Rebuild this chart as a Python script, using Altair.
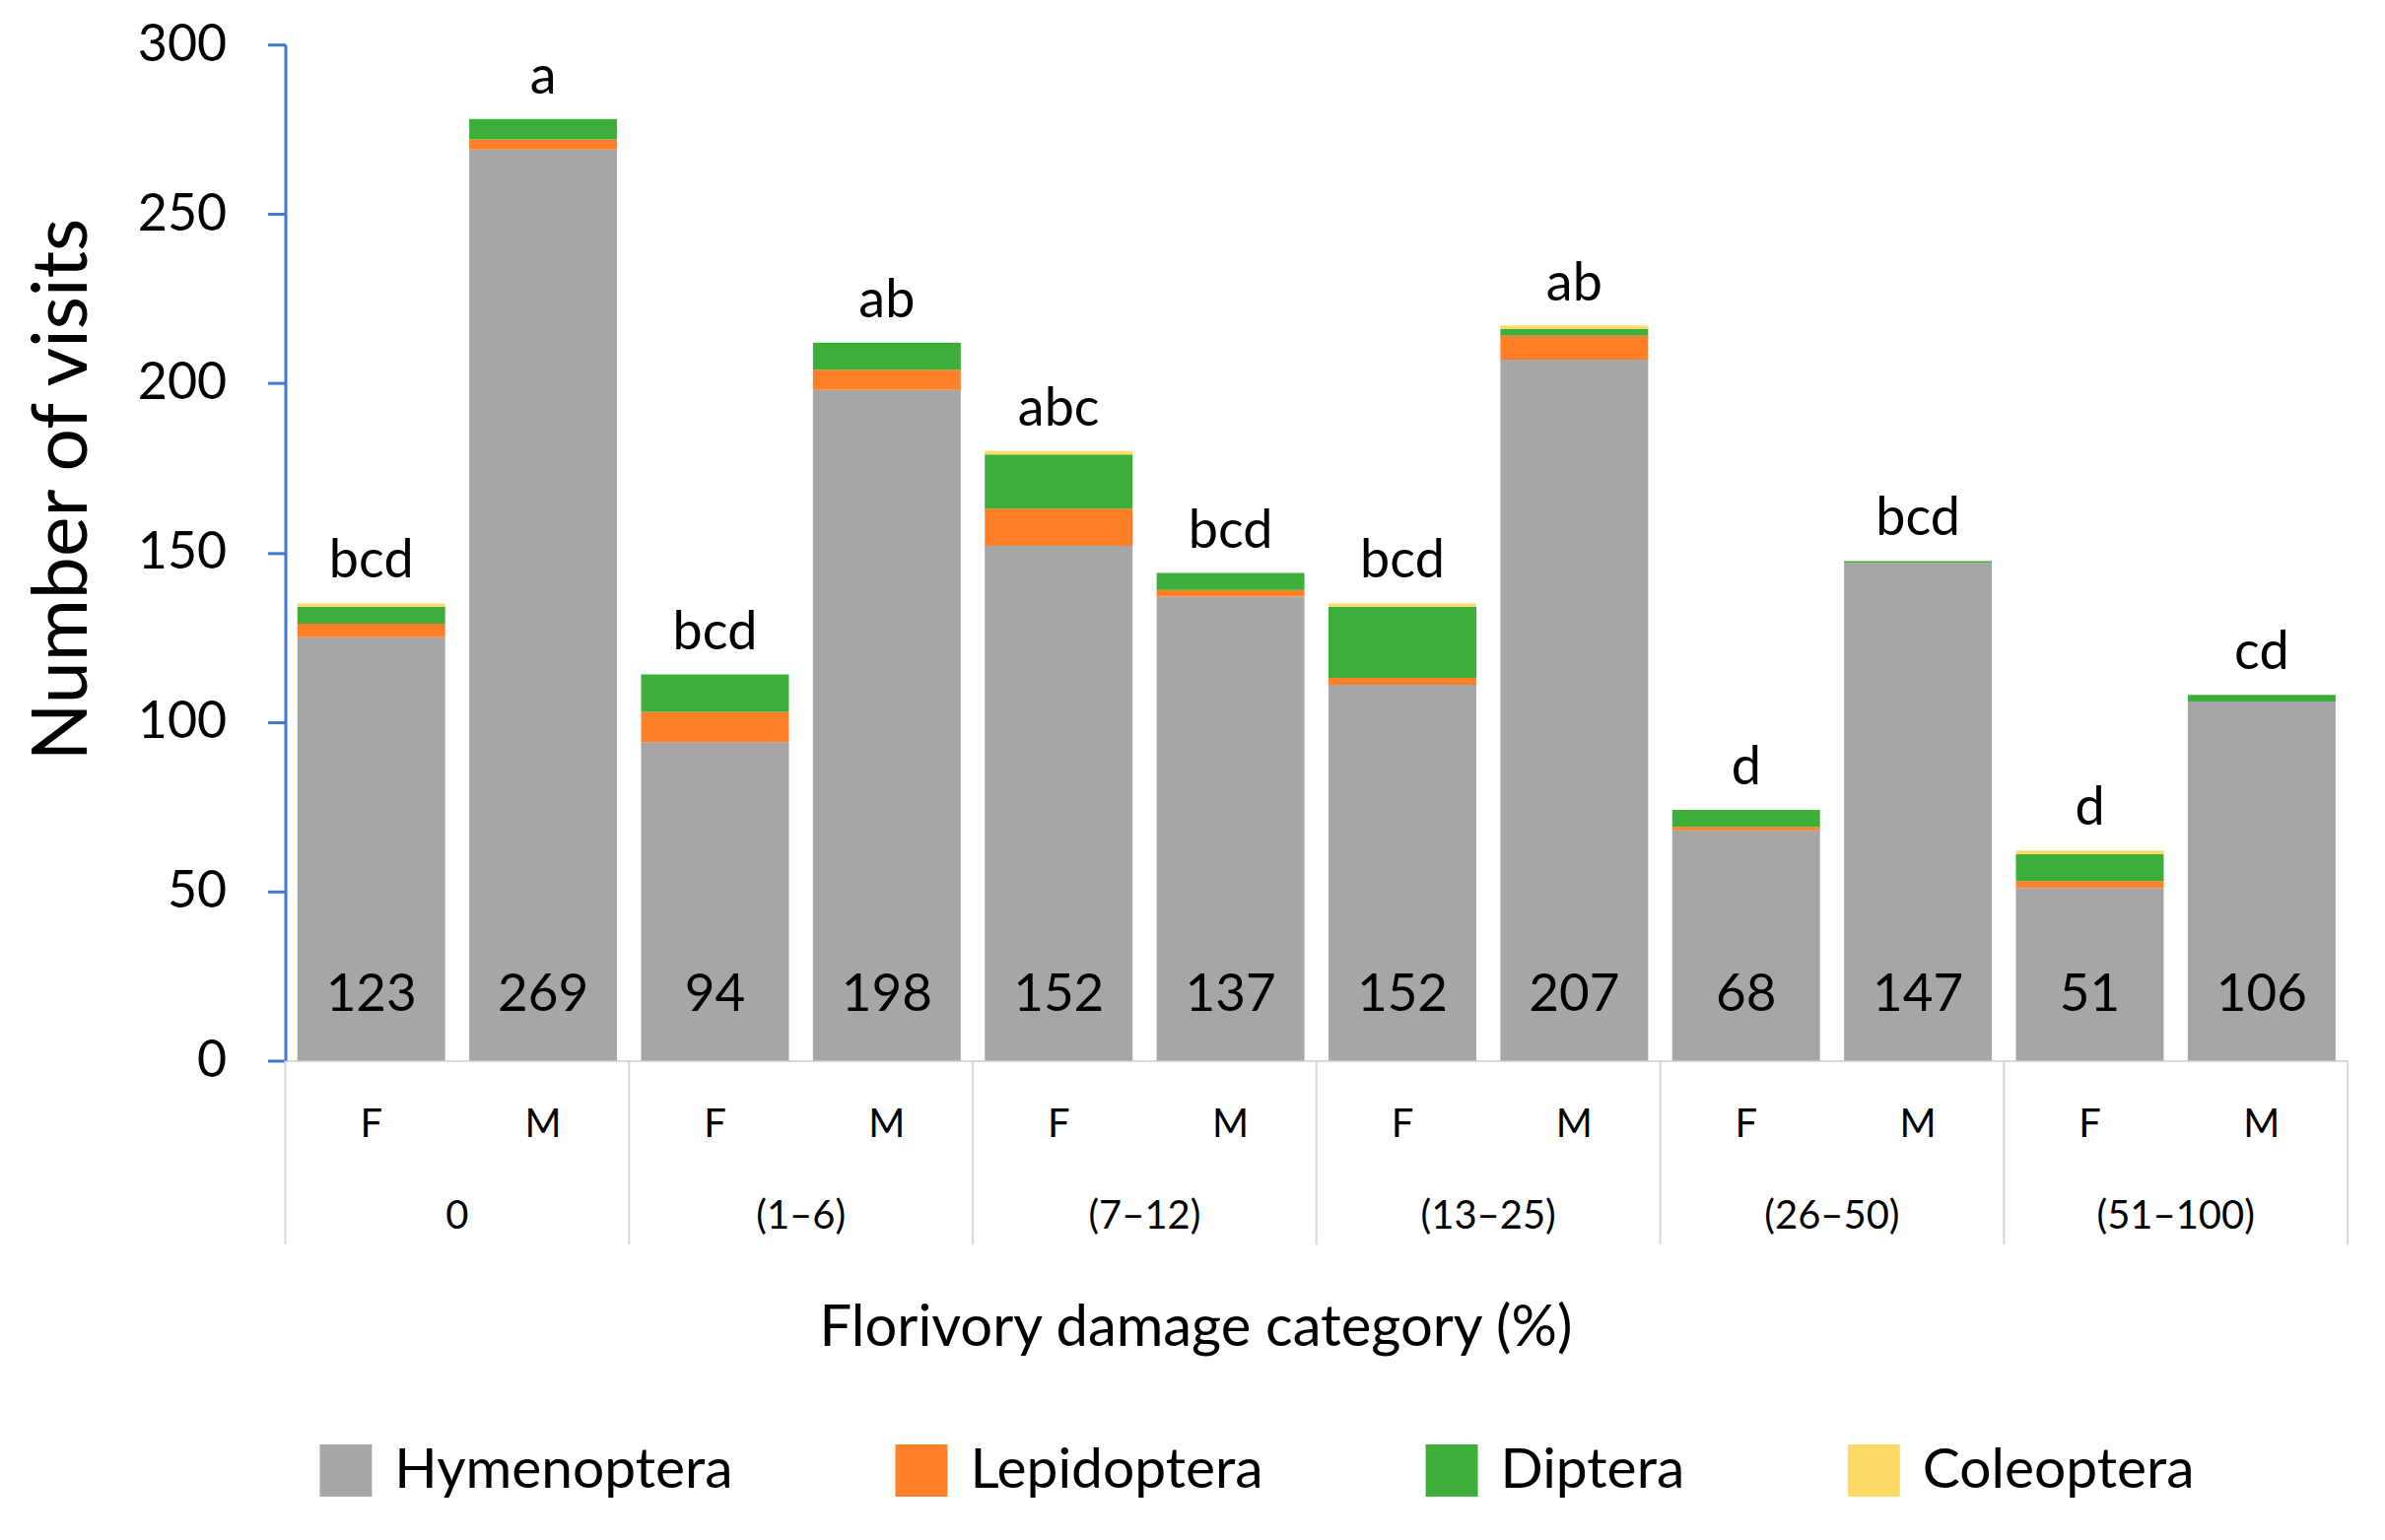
import altair as alt
import pandas as pd

groups = ["0", "(1–6)", "(7–12)", "(13–25)", "(26–50)", "(51–100)"]
sexes = ["F", "M"]
letters = ["bcd", "a", "bcd", "ab", "abc", "bcd", "bcd", "ab", "d", "bcd", "d", "cd"]
n_labels = [123, 269, 94, 198, 152, 137, 152, 207, 68, 147, 51, 106]

hymenoptera = [125, 269, 94, 198, 152, 137, 111, 207, 68, 147, 51, 106]
lepidoptera = [4, 3, 9, 6, 11, 2, 2, 7, 1, 0, 2, 0]
diptera = [5, 6, 11, 8, 16, 5, 21, 2, 5, 0.5, 8, 2]
coleoptera = [1, 0, 0, 0, 1, 0, 1, 1, 0, 0, 1, 0]

orders = ["Hymenoptera", "Lepidoptera", "Diptera", "Coleoptera"]
colors = ["#A6A6A6", "#FF7F27", "#3DAE3A", "#FFD966"]
series = [hymenoptera, lepidoptera, diptera, coleoptera]

bars = []
for g in groups:
    for s in sexes:
        bars.append(g + "|" + s)

rows = []
for oi, (name, vals) in enumerate(zip(orders, series)):
    for i, b in enumerate(bars):
        rows.append({"bar": b, "order": name, "rank": oi, "value": vals[i]})
long_df = pd.DataFrame(rows)

bar_df = pd.DataFrame({
    "bar": bars,
    "sex": [b.split("|")[1] for b in bars],
    "group": [b.split("|")[0] for b in bars],
    "letter": letters,
    "n": n_labels,
    "total": [sum(s[i] for s in series) for i in range(len(bars))],
})
f_df = bar_df[bar_df["sex"] == "F"]
m_df = bar_df[bar_df["sex"] == "M"]
last_df = bar_df.tail(1)

FONT = "Lato"
W, H = 2096, 1033

xscale = alt.Scale(domain=bars, paddingInner=0, paddingOuter=0)
xaxis = alt.Axis(labels=False, ticks=False, domainColor="#D9D9D9", domainWidth=2,
                 title="Florivory damage category (%)", titleFontSize=58,
                 titleFontWeight="normal", titleX=925, titleY=272,
                 titleAlign="center", titleBaseline="middle", titleColor="black")
yaxis = alt.Axis(values=[0, 50, 100, 150, 200, 250, 300], grid=False,
                 domainColor="#3D7ACF", domainWidth=3, tickColor="#3D7ACF",
                 tickWidth=3, tickSize=18, labelFontSize=52, labelPadding=42,
                 labelColor="black", title="Number of visits", titleFontSize=77,
                 titleFontWeight="normal", titleX=-225, titleY=452,
                 titleAlign="center", titleBaseline="middle", titleColor="black")

bar_layer = alt.Chart(long_df).mark_bar(width=alt.RelativeBandSize(0.86)).encode(
    x=alt.X("bar:N", scale=xscale, axis=xaxis, sort=bars),
    y=alt.Y("sum(value):Q", scale=alt.Scale(domain=[0, 300], nice=False), axis=yaxis, stack="zero"),
    color=alt.Color("order:N", scale=alt.Scale(domain=orders, range=colors),
                    legend=alt.Legend(title=None, orient="none", legendX=33, legendY=1421,
                                      direction="horizontal", symbolType="square",
                                      symbolSize=2809, symbolStrokeWidth=0,
                                      labelFontSize=57, labelOffset=21,
                                      columnPadding=163, labelColor="black", labelLimit=600)),
    order=alt.Order("rank:Q", sort="ascending"),
)

letter_layer = alt.Chart(bar_df).mark_text(fontSize=54, baseline="bottom", dy=-15, color="black").encode(
    x=alt.X("bar:N", scale=xscale, sort=bars),
    y=alt.Y("total:Q"),
    text="letter:N",
)

n_layer = alt.Chart(bar_df).mark_text(fontSize=53, baseline="alphabetic", dy=-51, color="black").encode(
    x=alt.X("bar:N", scale=xscale, sort=bars),
    y=alt.datum(0),
    text="n:Q",
)

sex_layer = alt.Chart(bar_df).mark_text(fontSize=40, baseline="middle", dy=66, color="black").encode(
    x=alt.X("bar:N", scale=xscale, sort=bars),
    y=alt.datum(0),
    text="sex:N",
)

group_layer = alt.Chart(m_df).mark_text(fontSize=40, baseline="middle", dy=159, color="black").encode(
    x=alt.X("bar:N", scale=xscale, sort=bars, bandPosition=0),
    y=alt.datum(0),
    text="group:N",
)

sep_layer = alt.Chart(f_df).mark_rule(color="#D9D9D9", strokeWidth=2).encode(
    x=alt.X("bar:N", scale=xscale, sort=bars, bandPosition=0),
    y=alt.value(H),
    y2=alt.value(H + 187),
)

sep_end = alt.Chart(last_df).mark_rule(color="#D9D9D9", strokeWidth=2).encode(
    x=alt.X("bar:N", scale=xscale, sort=bars, bandPosition=1),
    y=alt.value(H),
    y2=alt.value(H + 187),
)

chart = alt.layer(sep_layer, sep_end, bar_layer, letter_layer, n_layer, sex_layer, group_layer).properties(
    width=W, height=H,
    autosize=alt.AutoSizeParams(type="none"),
    padding={"left": 282, "top": 36, "right": 30, "bottom": 470},
).configure(font=FONT).configure_view(stroke=None).configure_text(font=FONT)

chart.save("out.html", embed_options={"renderer": "svg", "actions": False})
